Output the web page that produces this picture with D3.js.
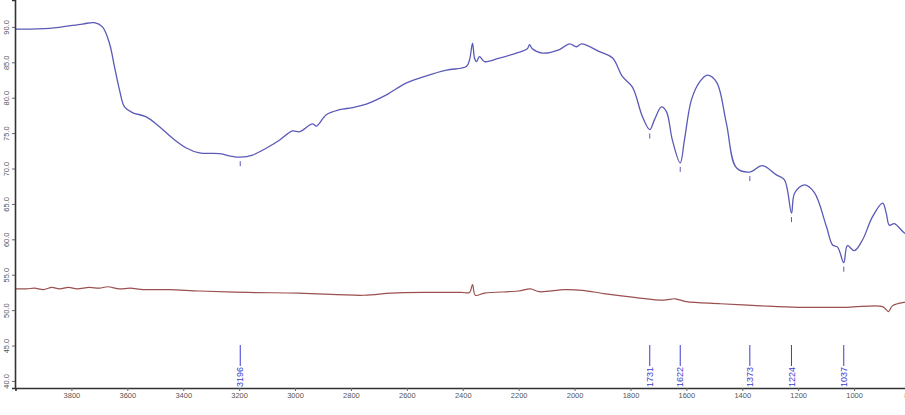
<!DOCTYPE html>
<html>
<head>
<meta charset="utf-8">
<script src="https://cdn.jsdelivr.net/npm/d3@7/dist/d3.min.js"></script>
<style>
html,body{margin:0;padding:0;background:#fff;overflow:hidden;}
svg{display:block;}
</style>
</head>
<body>
<script>
// Sample spectrum (blue): wavenumber (cm-1) and %T
const sampleWavenumber = [4000,3878,3761,3718,3689,3664,3646,3628,3610,3582,3532,3485,3439,3389,3342,3270,3224,3196,3152,3102,3056,3009,2984,2938,2923,2888,2841,2795,2745,2673,2601,2530,2458,2387,2376,2365,2358,2351,2340,2322,2269,2208,2169,2161,2151,2115,2054,2018,1993,1975,1911,1864,1829,1793,1757,1731,1714,1689,1671,1650,1622,1607,1582,1553,1525,1492,1457,1421,1373,1328,1278,1249,1224,1213,1178,1142,1099,1077,1059,1037,1024,999,970,934,898,885,874,856,820,780];
const sampleTransmittance = [89.7,89.8,90.4,90.6,90.0,87.7,84.4,81.1,78.7,77.9,77.3,75.9,74.3,72.9,72.2,72.1,71.7,71.6,71.9,72.9,74.0,75.3,75.2,76.3,76.0,77.6,78.3,78.6,79.1,80.4,82.1,83.1,83.9,84.4,85.3,87.7,85.6,85.1,85.8,85.1,85.6,86.3,86.9,87.5,86.9,86.3,86.8,87.6,87.2,87.6,86.5,85.6,83.0,81.5,77.3,75.5,76.9,78.7,78.0,74.0,70.8,74.0,79.7,82.2,83.2,82.2,76.4,70.1,69.5,70.4,69.1,68.4,63.7,66.5,67.7,66.6,61.8,59.2,58.9,56.7,59.1,58.4,59.9,63.2,65.1,63.7,62.0,62.2,60.9,60.0];

// Reference spectrum (brown)
const refWavenumber = [4000,3960,3932,3900,3870,3843,3810,3780,3736,3700,3670,3628,3590,3542,3450,3342,3170,2984,2755,2655,2519,2405,2376,2365,2355,2322,2201,2158,2126,2036,1972,1889,1786,1682,1640,1600,1478,1331,1199,1024,898,877,863,820,780];
const refTransmittance = [53.0,53.0,53.1,52.9,53.2,53.0,53.2,53.0,53.2,53.1,53.3,53.0,53.1,52.9,52.9,52.7,52.5,52.4,52.1,52.4,52.5,52.5,52.5,53.6,52.1,52.4,52.7,53.0,52.6,52.9,52.8,52.3,51.8,51.4,51.6,51.2,50.9,50.6,50.4,50.4,50.5,49.8,50.6,51.1,51.2];

// Peak annotations
const peakLabels = [3196,1731,1622,1373,1224,1037];
const peakValues = [71.6,75.5,70.8,69.5,63.7,56.7];

// Axis ticks
const xTicks = [3800,3600,3400,3200,3000,2800,2600,2400,2200,2000,1800,1600,1400,1200,1000,800];
const yTicks = [40.0,45.0,50.0,55.0,60.0,65.0,70.0,75.0,80.0,85.0,90.0];

const W = 905, H = 415;
const svg = d3.select("body").append("svg").attr("width", W).attr("height", H);

const x = d3.scaleLinear().domain([4000, 800]).range([15.5, 910]);
const y = d3.scaleLinear().domain([39.0, 93.8]).range([388, 0]);

const blue = "#5a5ab8", brown = "#9b4f4f", peakBlue = "#3b3bd0";

const line = d3.line().x(d => x(d[0])).y(d => y(d[1])).curve(d3.curveCatmullRom.alpha(0.5));

const clip = svg.append("defs").append("clipPath").attr("id","c")
  .append("rect").attr("x",15).attr("y",0).attr("width",W-15).attr("height",388);

const plot = svg.append("g").attr("clip-path","url(#c)");

plot.append("path")
  .datum(refWavenumber.map((w,i)=>[w, refTransmittance[i]]))
  .attr("d", line).attr("fill","none").attr("stroke",brown).attr("stroke-width",1.2);

plot.append("path")
  .datum(sampleWavenumber.map((w,i)=>[w, sampleTransmittance[i]]))
  .attr("d", line).attr("fill","none").attr("stroke",blue).attr("stroke-width",1.3);

// small tick marks under minima
plot.selectAll("line.pm").data(peakLabels).enter().append("line")
  .attr("x1", d=>x(d)).attr("x2", d=>x(d))
  .attr("y1", (d,i)=>y(peakValues[i])+4).attr("y2", (d,i)=>y(peakValues[i])+9)
  .attr("stroke", blue).attr("stroke-width",1);

// peak label markers
const pk = svg.append("g");
pk.selectAll("line").data(peakLabels).enter().append("line")
  .attr("x1", d=>x(d)).attr("x2", d=>x(d)).attr("y1",345).attr("y2",366)
  .attr("stroke", peakBlue).attr("stroke-width",1);
pk.selectAll("text").data(peakLabels).enter().append("text")
  .attr("transform", d=>`translate(${x(d)+3.2},367) rotate(-90)`)
  .attr("text-anchor","end")
  .attr("font-family","Liberation Sans, Arial, sans-serif").attr("font-size","9px")
  .attr("fill", peakBlue).text(d=>d);

// axes
const axCol = "#333";
const xAxis = d3.axisBottom(x).tickValues(xTicks).tickSize(3).tickFormat(d3.format("d"));
const gx = svg.append("g").attr("transform","translate(0,388)").call(xAxis);
gx.select(".domain").attr("stroke",axCol).attr("stroke-width",1.6);
gx.selectAll(".tick line").attr("stroke","#666");
gx.selectAll(".tick text").attr("fill","#555").attr("font-family","Liberation Sans, Arial, sans-serif").attr("font-size","7.5px").attr("dy","0.5em");

const yAxis = d3.axisLeft(y).tickValues(yTicks).tickSize(3).tickFormat(d3.format(".1f"));
const gy = svg.append("g").attr("transform","translate(15,0)").call(yAxis);
gy.select(".domain").attr("stroke",axCol).attr("stroke-width",1.6);
gy.selectAll(".tick line").attr("stroke","#666");
gy.selectAll(".tick text")
  .attr("fill","#555").attr("font-family","Liberation Sans, Arial, sans-serif").attr("font-size","7.5px")
  .attr("x",0).attr("dy",0)
  .attr("text-anchor","middle")
  .attr("transform","translate(-6,0) rotate(-90)");
</script>
</body>
</html>
